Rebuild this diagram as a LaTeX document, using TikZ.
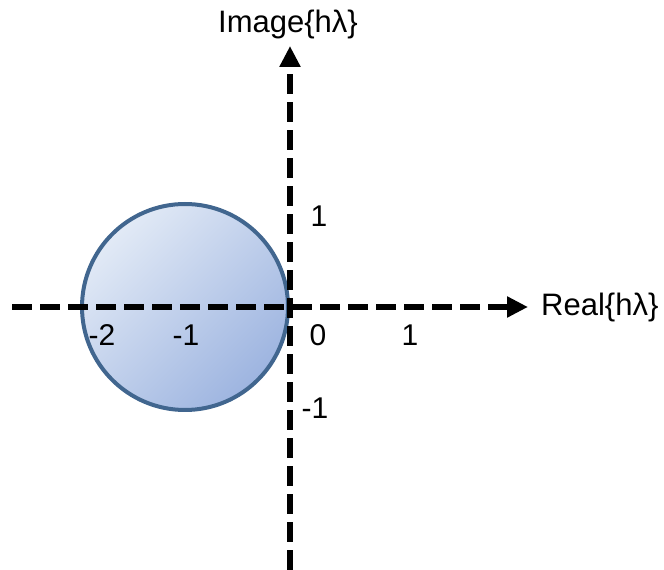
\documentclass[tikz,border=0pt]{standalone}
\usepackage{fontspec}
\setmainfont{Liberation Sans}
\usetikzlibrary{arrows.meta}
\definecolor{rimblue}{HTML}{41668F}
\definecolor{filllight}{HTML}{E2EAF6}
\definecolor{filldark}{HTML}{9DB4E0}
\tikzset{
  axisline/.style={line width=6pt, dash pattern=on 20pt off 8pt, -{Triangle[length=21pt,width=20pt]}},
  lbl/.style={inner sep=0pt, font=\fontsize{31}{36}\selectfont},
  ticklbl/.style={inner sep=0pt, font=\fontsize{30}{34}\selectfont},
}
\begin{document}
\begin{tikzpicture}[x=1pt,y=1pt]
\useasboundingbox (0,0) rectangle (664,570);
\node[circle, minimum size=206pt, inner sep=0pt, draw=rimblue, line width=4pt,
      top color=filllight, bottom color=filldark, shading angle=45] (disk) at (185,263) {};
\coordinate (hstart) at (12,263);
\coordinate (hend) at (528,263);
\coordinate (vstart) at (290,0);
\coordinate (vend) at (290,524);
\draw[axisline] (hstart) -- (hend);
\draw[axisline] (vstart) -- (vend);
\node[lbl] (imlbl) at (288,546) {Image\{h\char"03BB\}};
\node[lbl, anchor=west] (relbl) at (541,263) {Real\{h\char"03BB\}};
\node[ticklbl] (tm2) at (102,235) {-2};
\node[ticklbl] (tm1) at (186,235) {-1};
\node[ticklbl] (t0) at (318,235) {0};
\node[ticklbl] (t1) at (410,235) {1};
\node[ticklbl] (ty1) at (319,354) {1};
\node[ticklbl] (tym1) at (315,162) {-1};
\end{tikzpicture}
\end{document}
